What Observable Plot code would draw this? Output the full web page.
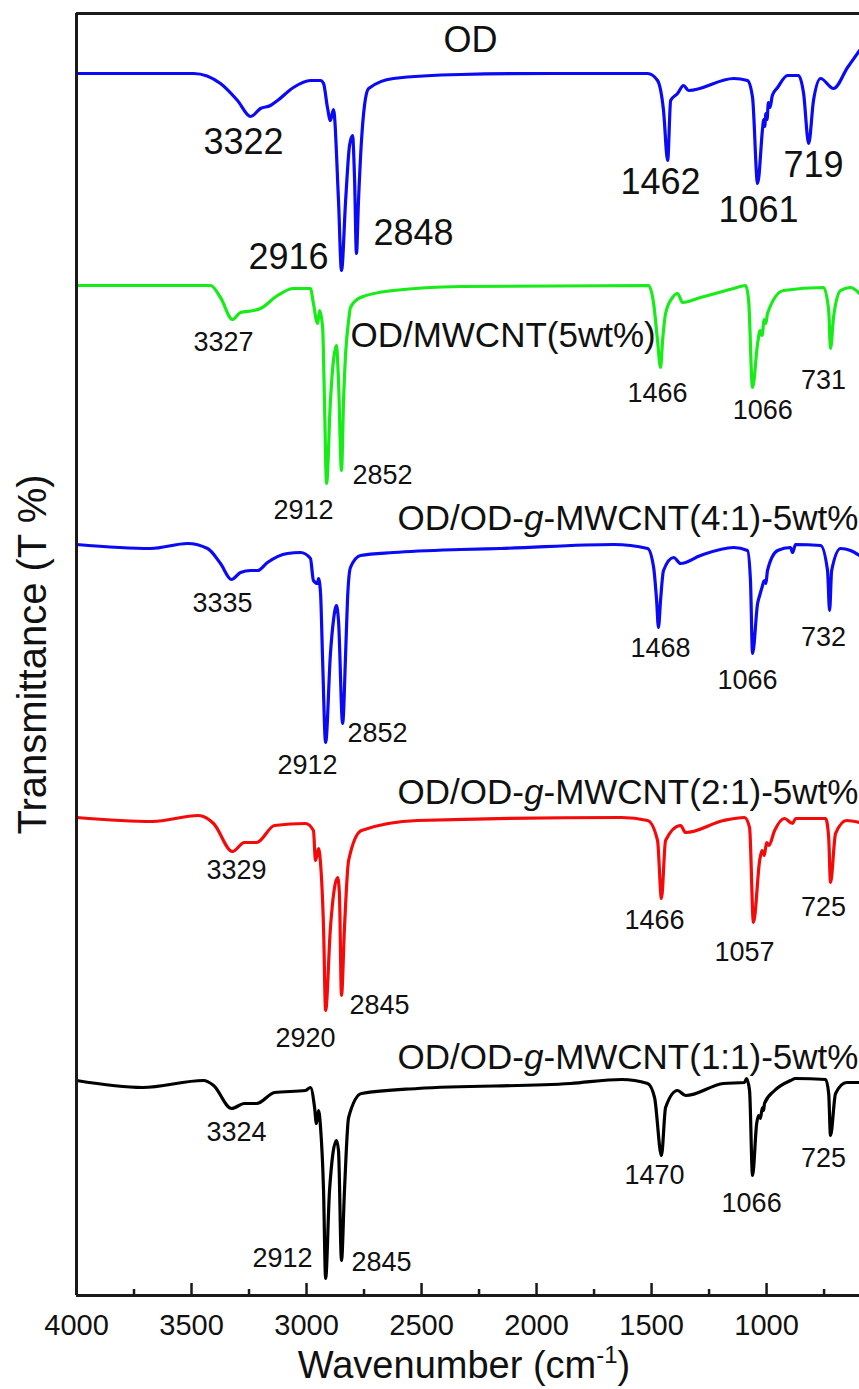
<!DOCTYPE html>
<html><head><meta charset="utf-8">
<script src="https://cdn.jsdelivr.net/npm/d3@7"></script>
<script src="https://cdn.jsdelivr.net/npm/@observablehq/plot@0.6"></script>
<style>html,body{margin:0;padding:0;background:#fff;} svg{display:block;}</style>
</head><body><div id="chart"></div>
<script>
// ---- x axis ticks ----
const xMajorTicks = [4000, 3500, 3000, 2500, 2000, 1500, 1000];
const xMinorTicks = [3750, 3250, 2750, 2250, 1750, 1250, 750];

// ---- series (wavenumber in cm-1, transmittance in offset units) ----
const seriesNames = ["OD", "OD/MWCNT(5wt%)", "OD/OD-g-MWCNT(4:1)-5wt%", "OD/OD-g-MWCNT(2:1)-5wt%", "OD/OD-g-MWCNT(1:1)-5wt%"];
const seriesColors = ["#0a0af5", "#18ec18", "#0a0af5", "#f50a0a", "#000000"];

const odWavenumber = [4000,3491,3374,3300,3243,3200,3157,3126,3057,2983,2939,2926,2909,2896,2883,2861,2848,2830,2813,2800,2791,2783,2774,2761,2748,2730,2622,2330,1939,1517,1474,1448,1430,1417,1387,1361,1339,1143,1083,1061,1039,1017,1013,1008,1003,998,992,985,975,952,909,861,839,817,796,765,709,648,596];
const odT = [122.2,122.2,121.2,119.5,117.9,118.7,119.0,119.5,120.8,121.5,121.5,121.2,118.8,117.5,118.6,109.5,102.5,109.5,115.0,116.0,111.5,104.2,109.5,115.5,119.0,120.7,121.7,122.1,122.2,122.2,121.5,118.5,113.5,119.5,120.2,121.0,120.5,121.7,121.5,119.8,111.2,116.8,117.6,116.9,118.2,117.6,119.3,118.8,120.0,120.8,122.0,122.0,120.2,115.2,119.5,121.7,120.7,122.8,124.5];

const mwcntWavenumber = [4000,3417,3374,3322,3287,3230,3200,3126,3057,2983,2970,2952,2943,2930,2922,2913,2896,2883,2870,2861,2848,2839,2830,2817,2809,2765,2622,2330,1513,1491,1474,1461,1452,1439,1409,1387,1365,1287,1143,1091,1078,1061,1039,1028,1020,1010,1003,996,926,752,730,722,709,678,635,596];
const mwcntT = [101.0,101.0,99.8,97.6,98.3,98.5,98.7,100.0,100.7,100.7,99.2,97.2,98.5,96.8,89.5,81.2,89.5,93.5,95.0,91.5,82.5,89.5,94.2,97.5,98.8,99.8,100.5,100.9,101.0,99.2,95.5,92.8,95.5,98.2,99.8,100.2,99.3,99.8,100.7,101.0,99.5,90.8,95.2,96.5,96.0,97.6,97.2,98.2,100.5,100.8,98.5,94.7,97.8,100.5,100.8,100.2];

const g41Wavenumber = [4000,3678,3517,3430,3374,3326,3287,3243,3213,3170,3083,3026,2983,2970,2952,2948,2939,2930,2917,2896,2883,2870,2861,2843,2830,2822,2809,2765,2622,2330,2157,1665,1517,1491,1478,1470,1461,1448,1404,1374,1287,1143,1083,1070,1061,1039,1030,1020,1010,1003,996,952,896,887,874,765,735,726,717,678,635,596];
const g41T = [75.1,74.7,75.2,74.7,73.2,71.6,72.3,72.5,72.5,73.3,74.2,74.3,73.7,71.5,71.2,71.7,70.2,63.5,55.3,64.2,67.5,69.0,67.5,57.2,64.2,69.5,72.8,74.0,74.3,74.6,74.7,75.1,74.7,72.8,69.5,66.8,69.5,72.5,73.8,73.2,74.0,74.8,74.5,71.5,64.2,69.2,70.0,70.8,71.5,71.2,72.5,74.5,74.8,74.3,75.1,75.0,72.5,68.5,72.5,74.7,74.5,74.0];

const g21Wavenumber = [4000,3670,3470,3404,3322,3270,3217,3139,3004,2970,2961,2948,2939,2926,2917,2896,2865,2857,2848,2835,2817,2761,2517,1630,1517,1474,1457,1439,1374,1352,1187,1096,1074,1057,1030,1020,1010,1000,990,965,922,887,874,743,730,722,700,652,596];
const g21T = [47.8,47.4,48.0,47.2,44.4,45.3,45.3,47.0,47.2,46.5,43.5,44.7,43.2,36.8,28.5,36.8,41.8,40.2,30.0,36.8,43.5,46.5,47.5,47.8,47.5,45.5,39.7,45.5,47.0,46.3,47.5,47.8,46.8,37.3,43.5,44.5,44.0,45.3,45.0,46.5,47.7,47.2,47.7,47.7,45.8,41.3,46.2,47.5,47.3];

const g11Wavenumber = [4000,3713,3448,3404,3326,3270,3217,3139,3004,2983,2965,2957,2948,2939,2926,2917,2900,2870,2861,2848,2835,2817,2761,2517,1852,1630,1517,1487,1457,1439,1387,1352,1187,1096,1087,1074,1061,1043,1035,1027,1018,1013,1009,965,896,874,743,730,722,700,652,596];
const g11T = [21.5,20.8,21.5,21.0,18.7,19.2,19.2,20.3,20.5,20.8,18.8,17.2,18.5,16.8,10.5,1.7,10.5,15.5,14.5,3.5,10.5,17.8,20.2,20.7,21.2,21.6,21.2,19.8,14.0,18.8,20.5,20.0,21.2,21.3,21.7,20.5,12.0,17.2,18.0,17.7,18.8,18.5,19.2,20.5,21.5,21.7,21.6,20.2,16.0,20.2,21.3,21.3];

// ---- series name labels ----
const nameWavenumber = [2287, 2809, 2604, 2604, 2604];
const nameT = [125.5, 96.0, 77.7, 50.3, 23.8];
const nameAnchor = ["middle", "start", "start", "start", "start"];

// ---- peak labels: [text, wavenumber, T] ----
const odPeaks = [["3322",3274,115.3],["2916",3078,103.8],["2848",2535,106.2],["1462",1461,111.3],["1061",1035,108.5],["719",796,113.0]];
const mwcntPeaks = [["3327",3361,95.3],["2912",3013,78.5],["2852",2670,82.0],["1466",1474,90.2],["1066",1017,88.5],["731",752,91.5]];
const g41Peaks = [["3335",3365,69.2],["2912",2996,53.0],["2852",2691,56.2],["1468",1461,64.7],["1066",1083,61.5],["732",752,65.8]];
const g21Peaks = [["3329",3304,42.5],["2920",3004,25.7],["2845",2683,29.0],["1466",1487,37.5],["1057",1096,34.3],["725",752,38.8]];
const g11Peaks = [["3324",3304,16.3],["2912",3104,3.7],["2845",2674,3.3],["1470",1487,12.0],["1066",1065,9.2],["725",752,13.7]];

const xLabel = "Wavenumber (cm-1)";
const yLabel = "Transmittance (T %)";

// ---- build tables ----
const wnSets = [odWavenumber, mwcntWavenumber, g41Wavenumber, g21Wavenumber, g11Wavenumber];
const tSets = [odT, mwcntT, g41T, g21T, g11T];
const spectra = wnSets.flatMap((w, s) => w.map((x, i) => ({series: s, wn: x, t: tSets[s][i]})));
const names = seriesNames.map((n, i) => ({name: n, wn: nameWavenumber[i], t: nameT[i], anchor: nameAnchor[i]}));
const bigPeaks = odPeaks.map(([text, wn, t]) => ({text, wn, t}));
const smallPeaks = [mwcntPeaks, g41Peaks, g21Peaks, g11Peaks].flat().map(([text, wn, t]) => ({text, wn, t}));

const font = "Liberation Sans, Arial, Helvetica, sans-serif";
const ink = "#111";

const chart = Plot.plot({
  width: 859,
  height: 1389,
  marginLeft: 76,
  marginRight: 0,
  marginTop: 13,
  marginBottom: 94,
  style: {fontFamily: font, background: "#fff", overflow: "visible"},
  x: {domain: [4000, 596], axis: null},
  y: {domain: [0, 128.2], axis: null},
  marks: [
    ...seriesNames.map((n, s) => Plot.line(spectra.filter(d => d.series === s), {
      x: "wn", y: "t", stroke: seriesColors[s], strokeWidth: 3.2, curve: "monotone-x", strokeLinejoin: "round"
    })),
    // frame
    Plot.ruleX([4000], {stroke: "#1a1a1a", strokeWidth: 3}),
    Plot.ruleY([0, 128.2], {stroke: "#1a1a1a", strokeWidth: 3}),
    // inward ticks
    Plot.ruleX(xMajorTicks, {x: d => d, y1: 0, y2: 1.2, stroke: "#1a1a1a", strokeWidth: 2.5}),
    Plot.ruleX(xMinorTicks, {x: d => d, y1: 0, y2: 0.6, stroke: "#1a1a1a", strokeWidth: 2.5}),
    Plot.axisX(xMajorTicks, {tickSize: 0, tickPadding: 19, fontSize: 29, tickFormat: d => String(d), label: null, fill: ink}),
    // axis titles
    Plot.text([xLabel], {frameAnchor: "bottom", text: d => d, dy: 70, dx: -4, fontSize: 38, lineAnchor: "middle", textAnchor: "middle", fill: ink}),
    Plot.text([yLabel], {frameAnchor: "left", text: d => d, dx: -43, rotate: -90, fontSize: 40, lineAnchor: "middle", textAnchor: "middle", fill: ink}),
    // series names
    Plot.text(names.slice(0, 1), {x: "wn", y: "t", text: "name", fontSize: 36, textAnchor: "middle", fill: ink}),
    Plot.text(names.slice(1), {x: "wn", y: "t", text: "name", fontSize: 35, textAnchor: "start", fill: ink}),
    // peak labels
    Plot.text(bigPeaks, {x: "wn", y: "t", text: "text", fontSize: 36, fill: ink}),
    Plot.text(smallPeaks, {x: "wn", y: "t", text: "text", fontSize: 27, fill: ink})
  ]
});

document.getElementById("chart").appendChild(chart);

// italic "g" and superscript "-1" as real text
const NS = "http://www.w3.org/2000/svg";
for (const t of chart.querySelectorAll("text")) {
  const target = t.querySelector("tspan") || t;
  const s = target.textContent;
  if (s.includes("-g-")) {
    const [a, b] = s.split("-g-");
    target.textContent = "";
    target.append(a + "-");
    const ts = document.createElementNS(NS, "tspan");
    ts.setAttribute("font-style", "italic");
    ts.textContent = "g";
    target.append(ts);
    target.append("-" + b);
  } else if (s === xLabel) {
    target.textContent = "";
    target.append("Wavenumber (cm");
    const sup = document.createElementNS(NS, "tspan");
    sup.setAttribute("dy", "-15");
    sup.setAttribute("font-size", "24");
    sup.textContent = "-1";
    target.append(sup);
    const close = document.createElementNS(NS, "tspan");
    close.setAttribute("dy", "15");
    close.textContent = ")";
    target.append(close);
  }
}
</script>
</body></html>
